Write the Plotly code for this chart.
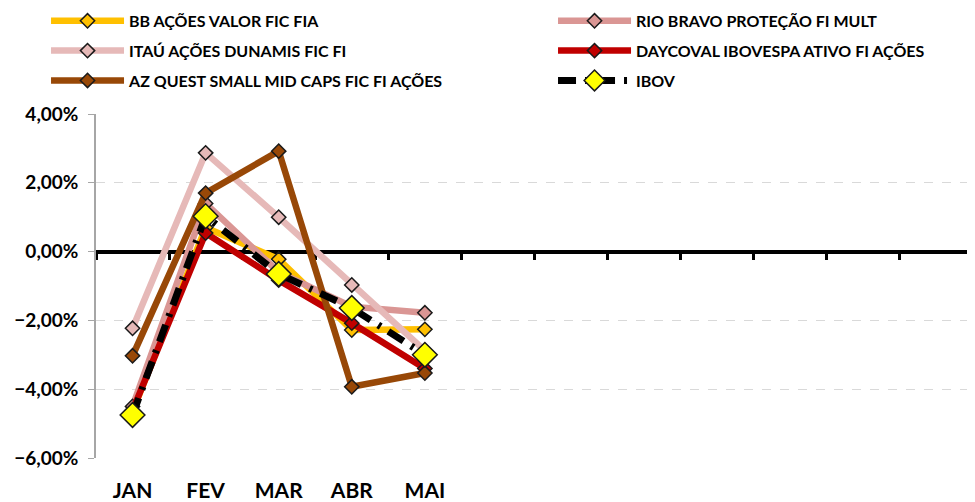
import plotly.graph_objects as go

months = ["JAN", "FEV", "MAR", "ABR", "MAI"]
n_slots = 12

bb = [-4.65, 0.70, -0.22, -2.28, -2.26]
rio = [-4.50, 1.40, -0.60, -1.60, -1.78]
itau = [-2.23, 2.87, 1.00, -0.97, -2.88]
daycoval = [-4.62, 0.54, -0.83, -2.08, -3.40]
azquest = [-3.03, 1.70, 2.92, -3.93, -3.53]
ibov = [-4.75, 1.03, -0.65, -1.64, -3.00]

names = ["BB AÇÕES VALOR FIC FIA", "RIO BRAVO PROTEÇÃO FI MULT",
         "ITAÚ AÇÕES DUNAMIS FIC FI", "DAYCOVAL IBOVESPA ATIVO FI AÇÕES",
         "AZ QUEST SMALL MID CAPS FIC FI AÇÕES", "IBOV"]
series = [bb, rio, itau, daycoval, azquest, ibov]
colors = ["#FFC000", "#DA9694", "#E6B9B8", "#C00000", "#984807", "#000000"]
marker_colors = ["#FFC000", "#DA9694", "#E6B9B8", "#C00000", "#984807", "#FFFF00"]
legend_ids = ["legend", "legend2", "legend", "legend2", "legend", "legend2"]

FONT = "Lato"

fig = go.Figure()
for i, (nm, vals) in enumerate(zip(names, series)):
    is_ibov = nm == "IBOV"
    fig.add_trace(go.Scatter(
        x=months, y=vals, name=nm, mode="lines+markers",
        line=dict(color=colors[i], width=7 if is_ibov else 6.5,
                  dash="18px,9px,3px,9px" if is_ibov else "solid"),
        marker=dict(symbol="diamond", size=19 if is_ibov else 11,
                    color=marker_colors[i], line=dict(color="#1a1a1a", width=1.5)),
        legend=legend_ids[i], legendgroup=nm,
    ))

# overlay axis drawn at y = 0 (Excel-style crossing axis)
fig.add_trace(go.Scatter(x=[], y=[], xaxis="x2", yaxis="y", showlegend=False,
                         hoverinfo="skip"))

legend_common = dict(
    xref="container", yref="paper", yanchor="top", xanchor="left",
    orientation="v", bgcolor="rgba(0,0,0,0)", tracegroupgap=6,
    font=dict(family=FONT, size=16, color="#000000", weight="bold"),
    itemwidth=73, traceorder="grouped",
)

fig.update_layout(
    width=975, height=502,
    margin=dict(l=88, r=10, t=106, b=52, autoexpand=False),
    plot_bgcolor="white", paper_bgcolor="white",
    separators=",.",
    font=dict(family=FONT, color="#000000"),
    legend=dict(x=0.039, y=1.32, **legend_common),
    legend2=dict(x=0.559, y=1.32, **legend_common),
    xaxis=dict(
        type="category", categoryarray=months, range=[-0.5, n_slots - 0.5],
        showgrid=False, zeroline=False, showline=False, ticks="",
        tickangle=0, automargin=False, ticklabelstandoff=18,
        tickfont=dict(family=FONT, size=21, weight="bold", color="#000000"),
        fixedrange=True,
    ),
    xaxis2=dict(
        type="linear", range=[-0.5, n_slots - 0.5], overlaying="x",
        anchor="free", position=0.6, side="bottom", automargin=False,
        tickmode="array", tickvals=[k - 0.5 for k in range(n_slots + 1)],
        showticklabels=False, ticks="outside", ticklen=6, tickwidth=3,
        tickcolor="#000000", showline=True, linewidth=4, linecolor="#000000",
        showgrid=False, zeroline=False, layer="below traces",
    ),
    yaxis=dict(
        range=[-6, 4], dtick=2, tick0=0, tickformat=".2f", ticksuffix="%",
        showgrid=True, gridcolor="#D9D9D9", griddash="dash", gridwidth=1,
        zeroline=False, showline=True, linecolor="#A6A6A6", linewidth=1.5,
        ticks="outside", ticklen=6, tickcolor="#A6A6A6", automargin=False,
        ticklabelstandoff=6,
        tickfont=dict(family=FONT, size=19, weight="bold", color="#000000"),
        fixedrange=True,
    ),
)

fig.write_html("out.html")
